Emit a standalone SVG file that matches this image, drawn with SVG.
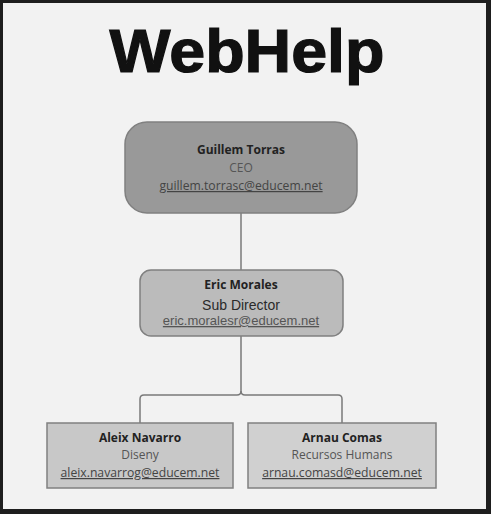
<svg xmlns="http://www.w3.org/2000/svg" width="491" height="514" viewBox="0 0 491 514">
<style>
.name{font-family:"Open Sans","Noto Sans",sans-serif;font-weight:bold;font-size:12px;fill:#222;text-anchor:middle}
.role{font-family:"Open Sans","Noto Sans",sans-serif;font-size:12px;fill:#555;text-anchor:middle}
.mail{font-family:"Open Sans","Noto Sans",sans-serif;font-size:12.2px;fill:#444;text-anchor:middle;text-decoration:underline}
.arial{font-family:"Liberation Sans",Arial,sans-serif}
.box{stroke:#808080;stroke-width:1.5}
.conn{fill:none;stroke:#7a7a7a;stroke-width:1.5}
</style>
<rect x="0" y="0" width="491" height="514" fill="#1e1e1e"/>
<rect x="3" y="3" width="483" height="506" fill="#f2f2f2"/>
<text x="247" y="72" font-family="Liberation Sans,Arial,sans-serif" font-weight="bold" font-size="61" fill="#111" stroke="#111" stroke-width="1.2" text-anchor="middle" textLength="275" lengthAdjust="spacingAndGlyphs">WebHelp</text>
<g id="connectors">
<path class="conn" d="M241 213 V270"/>
<path class="conn" d="M241 336 V391 Q241 395 237 395 H144 Q140 395 140 399 V423"/>
<path class="conn" d="M241 391 Q241 395 245 395 H338 Q342 395 342 399 V423"/>
</g>
<g id="ceo">
<rect class="box" x="125" y="122" width="232" height="91" rx="22" fill="#999999"/>
<text class="name" x="241" y="154">Guillem Torras</text>
<text class="role" x="241" y="172">CEO</text>
<text class="mail" x="241" y="190">guillem.torrasc@educem.net</text>
</g>
<g id="subdirector">
<rect class="box" x="140" y="270" width="203" height="66" rx="11" fill="#bbbbbb"/>
<text class="name" x="241" y="289">Eric Morales</text>
<text class="role arial" x="241" y="310" style="font-size:14px;fill:#2a2a2a">Sub Director</text>
<text class="mail arial" x="241" y="325" style="font-size:13px;fill:#555">eric.moralesr@educem.net</text>
</g>
<g id="aleix">
<rect class="box" x="47" y="423" width="186" height="65" fill="#c8c8c8"/>
<text class="name" x="140" y="442">Aleix Navarro</text>
<text class="role" x="140" y="459">Diseny</text>
<text class="mail" x="140" y="477">aleix.navarrog@educem.net</text>
</g>
<g id="arnau">
<rect class="box" x="248" y="423" width="188" height="65" fill="#d0d0d0"/>
<text class="name" x="342" y="442">Arnau Comas</text>
<text class="role" x="342" y="459">Recursos Humans</text>
<text class="mail" x="342" y="477">arnau.comasd@educem.net</text>
</g>
</svg>
